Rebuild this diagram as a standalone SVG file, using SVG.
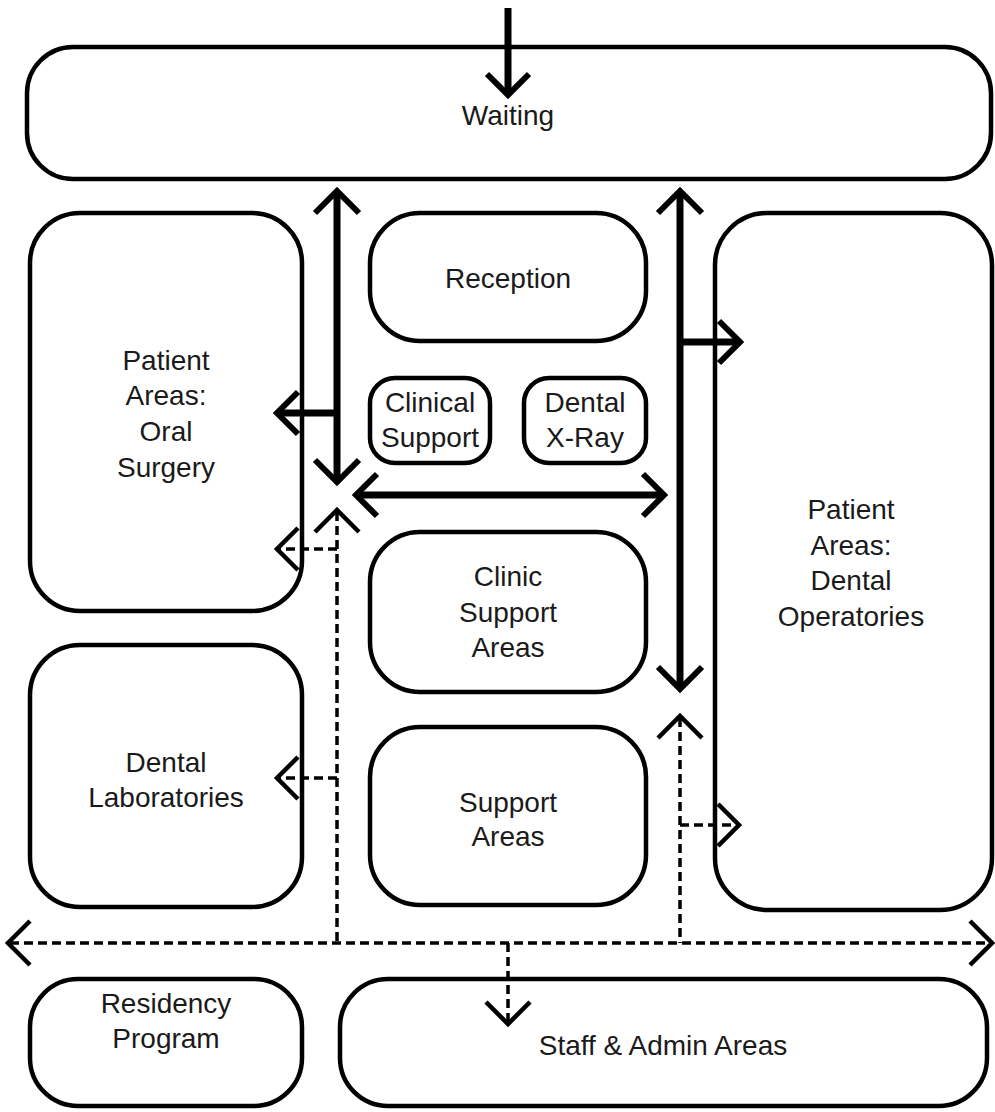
<svg xmlns="http://www.w3.org/2000/svg" width="995" height="1112" viewBox="0 0 995 1112">
<style>
.box{fill:#fff;stroke:#000;stroke-width:4.5}
.t{font-family:"Liberation Sans",Arial,sans-serif;font-size:28px;fill:#1a1a1a;text-anchor:middle}
.thick{fill:none;stroke:#000;stroke-width:7}
.head{fill:none;stroke:#000;stroke-width:6;stroke-linecap:butt;stroke-linejoin:miter}
.dash{fill:none;stroke:#000;stroke-width:3.5;stroke-dasharray:9 5}
.dhead{fill:none;stroke:#000;stroke-width:4.5;stroke-linejoin:miter}
</style>
<rect width="995" height="1112" fill="#fff"/>

<g id="waiting"><rect class="box" x="27" y="47" width="964" height="132" rx="46"/><text class="t" x="508" y="125">Waiting</text></g>
<g id="oral-surgery"><rect class="box" x="30" y="213" width="272" height="398" rx="50"/>
<text class="t" x="166" y="370">Patient</text><text class="t" x="166" y="405">Areas:</text><text class="t" x="166" y="441">Oral</text><text class="t" x="166" y="477">Surgery</text></g>
<g id="reception"><rect class="box" x="370" y="213" width="276" height="128" rx="50"/><text class="t" x="508" y="288">Reception</text></g>
<g id="clinical-support"><rect class="box" x="370" y="378" width="120" height="85" rx="25"/><text class="t" x="430" y="412">Clinical</text><text class="t" x="430" y="447">Support</text></g>
<g id="dental-xray"><rect class="box" x="524" y="378" width="122" height="85" rx="25"/><text class="t" x="585" y="412">Dental</text><text class="t" x="585" y="447">X-Ray</text></g>
<g id="clinic-support-areas"><rect class="box" x="370" y="532" width="276" height="160" rx="50"/>
<text class="t" x="508" y="586">Clinic</text><text class="t" x="508" y="622">Support</text><text class="t" x="508" y="657">Areas</text></g>
<g id="support-areas"><rect class="box" x="370" y="727" width="276" height="178" rx="50"/>
<text class="t" x="508" y="812">Support</text><text class="t" x="508" y="846">Areas</text></g>
<g id="dental-labs"><rect class="box" x="30" y="645" width="272" height="262" rx="50"/>
<text class="t" x="166" y="772">Dental</text><text class="t" x="166" y="807">Laboratories</text></g>
<g id="dental-operatories"><rect class="box" x="715" y="213" width="277" height="697" rx="52"/>
<text class="t" x="851" y="519">Patient</text><text class="t" x="851" y="555">Areas:</text><text class="t" x="851" y="590">Dental</text><text class="t" x="851" y="626">Operatories</text></g>
<g id="residency"><rect class="box" x="30" y="979" width="272" height="127" rx="48"/>
<text class="t" x="166" y="1013">Residency</text><text class="t" x="166" y="1048">Program</text></g>
<g id="staff-admin"><rect class="box" x="340" y="979" width="647" height="127" rx="48"/><text class="t" x="663" y="1055">Staff &amp; Admin Areas</text></g>

<g id="connectors">
<!-- entry arrow -->
<line class="thick" x1="508" y1="8" x2="508" y2="94"/>
<polyline class="head" points="487,74 508,95 529,74"/>
<!-- left vertical double arrow -->
<line class="thick" x1="337" y1="193" x2="337" y2="480"/>
<polyline class="head" points="315,213 337,191 359,213"/>
<polyline class="head" points="315,460 337,482 359,460"/>
<line class="thick" x1="337" y1="413" x2="279" y2="413"/>
<polyline class="head" points="298,392 277,413 298,434"/>
<!-- horizontal double arrow -->
<line class="thick" x1="358" y1="495" x2="662" y2="495"/>
<polyline class="head" points="377,474 356,495 377,516"/>
<polyline class="head" points="643,474 664,495 643,516"/>
<!-- right vertical double arrow -->
<line class="thick" x1="680" y1="193" x2="680" y2="687"/>
<polyline class="head" points="658,213 680,191 702,213"/>
<polyline class="head" points="658,667 680,689 702,667"/>
<line class="thick" x1="680" y1="342" x2="738" y2="342"/>
<polyline class="head" points="719,321 740,342 719,363"/>
<!-- dashed left -->
<line class="dash" x1="337" y1="512" x2="337" y2="943"/>
<polyline class="dhead" points="315,532 337,510 359,532"/>
<line class="dash" x1="337" y1="549" x2="279" y2="549"/>
<polyline class="dhead" points="298,528 277,549 298,570"/>
<line class="dash" x1="337" y1="778" x2="279" y2="778"/>
<polyline class="dhead" points="298,757 277,778 298,799"/>
<!-- dashed right -->
<line class="dash" x1="680" y1="718" x2="680" y2="943"/>
<polyline class="dhead" points="658,738 680,716 702,738"/>
<line class="dash" x1="680" y1="825" x2="737" y2="825"/>
<polyline class="dhead" points="718,804 739,825 718,846"/>
<!-- dashed bottom corridor -->
<line class="dash" x1="10" y1="943" x2="990" y2="943"/>
<polyline class="dhead" points="30,921 8,943 30,965"/>
<polyline class="dhead" points="970,921 992,943 970,965"/>
<line class="dash" x1="508" y1="943" x2="508" y2="1021"/>
<polyline class="dhead" points="486,1002 508,1024 530,1002"/>
</g>
</svg>
